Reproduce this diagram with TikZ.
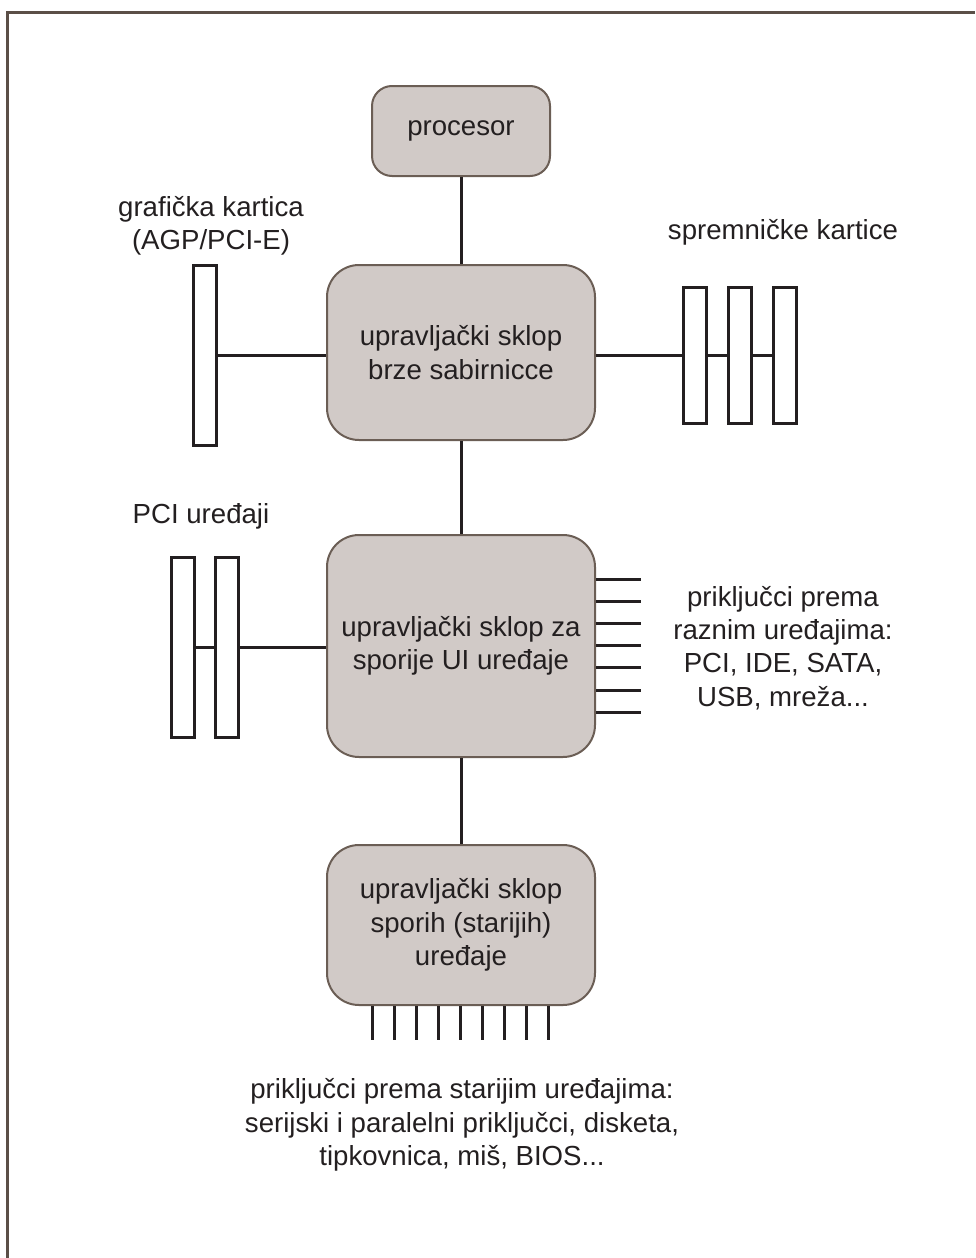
\documentclass[tikz,border=0pt]{standalone}
\usepackage{fontspec}
\setmainfont{Liberation Sans}
\usetikzlibrary{positioning}
\definecolor{chipfill}{HTML}{D1CAC7}
\definecolor{chipline}{HTML}{6B5E55}
\definecolor{frameline}{HTML}{5B4F47}
\definecolor{wirecol}{HTML}{231F20}

\begin{document}
\begin{tikzpicture}[x=0.5pt,y=-0.5pt,line join=miter,
  every node/.style={font=\fontsize{13.8}{16.6}\selectfont,text=wirecol},
  chip/.style={draw=chipline,fill=chipfill,line width=1pt,rounded corners=16pt,
    align=center,inner sep=0pt,minimum width=134pt},
  slot/.style={draw=wirecol,line width=1.5pt,fill=white,inner sep=0pt,minimum width=11.5pt},
  wire/.style={draw=wirecol,line width=1.5pt},
  lbl/.style={align=center,inner sep=0pt}]
\useasboundingbox (0,0) rectangle (975,1258);
%% frame
\draw [frameline,line width=1.5pt] (7,1258) -- (7,12) -- (975,12);
%% chips
\node (cpu) at (461,131) [chip,rounded corners=10pt,minimum width=89pt,minimum height=45pt] {procesor};
\node (fsb) at (461,352.5) [chip,minimum height=87.5pt] {upravljački sklop\\brze sabirnicce};
\node (sio) at (461,646) [chip,minimum height=111pt] {upravljački sklop za\\sporije UI uređaje};
\node (lpc) at (461,925) [chip,minimum height=80pt] {upravljački sklop\\sporih (starijih)\\uređaje};
%% slots
\node (gfx) at (204.5,355) [slot,minimum height=90pt] {};
\node (mem1) at (695,355) [slot,minimum height=68pt] {};
\node (mem2) at (740,355) [slot,minimum height=68pt] {};
\node (mem3) at (785,355) [slot,minimum height=68pt] {};
\node (pci1) at (182.5,647) [slot,minimum height=90pt] {};
\node (pci2) at (226.5,647) [slot,minimum height=90pt] {};
%% labels
\node (gfx_lbl) at (211,226) [lbl] {grafička kartica\\(AGP/PCI-E)};
\node (mem_lbl) at (783,232) [lbl] {spremničke kartice};
\node (pci_lbl) at (201,516) [lbl] {PCI uređaji};
\node (io_lbl) at (783,648) [lbl] {priključci prema\\raznim uređajima:\\PCI, IDE, SATA,\\USB, mreža...};
\node (old_lbl) at (462,1125) [lbl] {priključci prema starijim uređajima:\\serijski i paralelni priključci, disketa,\\tipkovnica, miš, BIOS...};
%% buses
\draw [wire] (cpu) -- (fsb);
\draw [wire] (fsb) -- (sio);
\draw [wire] (sio) -- (lpc);
\draw [wire] (gfx.east) -- (gfx.east -| fsb.west);
\draw [wire] (fsb.east |- mem1.west) -- (mem1.west);
\draw [wire] (mem1) -- (mem2);
\draw [wire] (mem2) -- (mem3);
\draw [wire] (pci1) -- (pci2);
\draw [wire] (pci2.east) -- (pci2.east -| sio.west);
%% stubs
\foreach \k in {0,...,6} {
  \coordinate (p\k) at (641,579+22.2*\k);
  \draw [wire] (sio.east |- p\k) -- (p\k);
}
\foreach \k in {0,...,8} {
  \coordinate (q\k) at (372+22*\k,1040);
  \draw [wire] (q\k |- lpc.south) -- (q\k);
}
%
\end{tikzpicture}
\end{document}
